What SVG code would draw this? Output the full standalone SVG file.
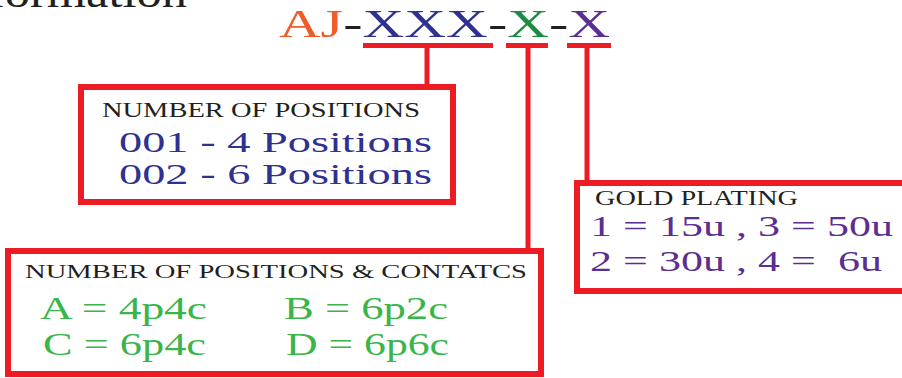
<svg xmlns="http://www.w3.org/2000/svg" width="902" height="378" viewBox="0 0 902 378">
<style>
text{font-family:"Liberation Serif","Times New Roman",serif;}
.t{font-size:41px;}
.box{fill:#fff;stroke:#ed1c24;stroke-width:6;}
.bar{fill:#ed1c24;}
.hdr{fill:#231f20;}
.blue{fill:#2e3192;}
.green{fill:#39b54a;}
.purple{fill:#5b2e91;}
</style>
<rect width="902" height="378" fill="#fff"/>
<text x="-54" y="7" font-size="42" fill="#231f20" textLength="241" lengthAdjust="spacingAndGlyphs">Information</text>
<g id="code">
<text class="t" x="279" y="37" fill="#f15a29" textLength="64" lengthAdjust="spacingAndGlyphs">AJ</text>
<text class="t" x="343.3" y="37" fill="#231f20" textLength="19.3" lengthAdjust="spacingAndGlyphs">-</text>
<text class="t" x="362.6" y="37" fill="#2e3192" textLength="125.3" lengthAdjust="spacingAndGlyphs">XXX</text>
<text class="t" x="487.9" y="37" fill="#231f20" textLength="19.3" lengthAdjust="spacingAndGlyphs">-</text>
<text class="t" x="507.2" y="37" fill="#1f8a42" textLength="41.8" lengthAdjust="spacingAndGlyphs">X</text>
<text class="t" x="549" y="37" fill="#231f20" textLength="19.3" lengthAdjust="spacingAndGlyphs">-</text>
<text class="t" x="568.3" y="37" fill="#5b2e91" textLength="41.8" lengthAdjust="spacingAndGlyphs">X</text>
</g>
<g id="connectors">
<rect class="bar" x="363" y="43" width="130" height="5"/>
<rect class="bar" x="506" y="43" width="42" height="5"/>
<rect class="bar" x="567" y="43" width="44" height="5"/>
<rect class="bar" x="424.5" y="46" width="5" height="40"/>
<rect class="bar" x="525.5" y="46" width="5" height="204"/>
<rect class="bar" x="584.5" y="46" width="5" height="136"/>
</g>
<g id="positions">
<rect class="box" x="81" y="87" width="372" height="115"/>
<text class="hdr" x="102" y="117" font-size="21" textLength="318" lengthAdjust="spacingAndGlyphs">NUMBER OF POSITIONS</text>
<text class="blue" x="119" y="152" font-size="29" textLength="313" lengthAdjust="spacingAndGlyphs">001 - 4 Positions</text>
<text class="blue" x="119" y="184" font-size="29" textLength="313" lengthAdjust="spacingAndGlyphs">002 - 6 Positions</text>
</g>
<g id="gold">
<rect class="box" x="577" y="183" width="340" height="108"/>
<text class="hdr" x="595" y="205" font-size="20" textLength="203" lengthAdjust="spacingAndGlyphs">GOLD PLATING</text>
<text class="purple" x="590" y="236" font-size="29" textLength="303" lengthAdjust="spacingAndGlyphs">1 = 15u , 3 = 50u</text>
<text class="purple" x="590" y="271" font-size="29" textLength="292" lengthAdjust="spacingAndGlyphs">2 = 30u , 4 =&#160; 6u</text>
</g>
<g id="contacts">
<rect class="box" x="8" y="251" width="533" height="123"/>
<text class="hdr" x="25" y="278" font-size="19" textLength="502" lengthAdjust="spacingAndGlyphs">NUMBER OF POSITIONS &amp; CONTATCS</text>
<text class="green" x="40" y="319" font-size="31" textLength="167" lengthAdjust="spacingAndGlyphs">A = 4p4c</text>
<text class="green" x="284" y="319" font-size="31" textLength="164" lengthAdjust="spacingAndGlyphs">B = 6p2c</text>
<text class="green" x="43" y="355" font-size="31" textLength="163" lengthAdjust="spacingAndGlyphs">C = 6p4c</text>
<text class="green" x="286" y="355" font-size="31" textLength="163" lengthAdjust="spacingAndGlyphs">D = 6p6c</text>
</g>
</svg>
